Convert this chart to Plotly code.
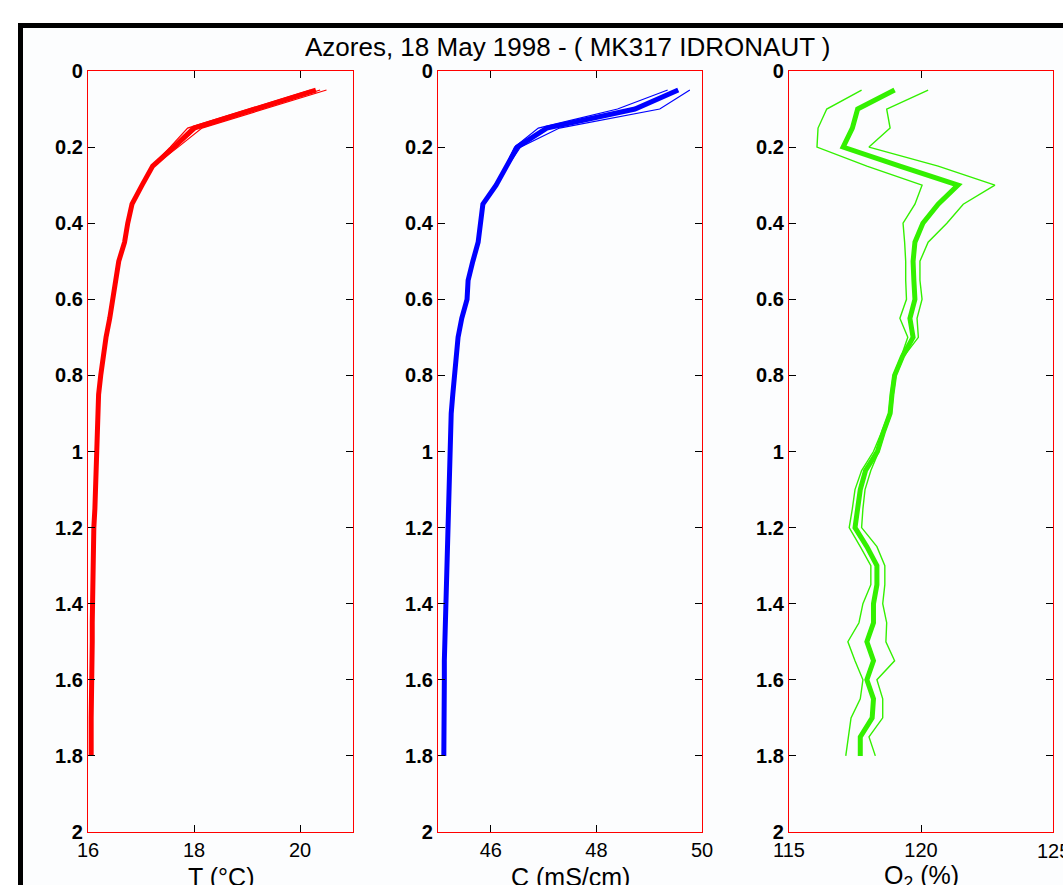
import plotly.graph_objects as go

W, H = 1063, 885

depth = [0.05, 0.10, 0.15, 0.20, 0.25, 0.30, 0.35, 0.40, 0.45, 0.50,
         0.55, 0.60, 0.65, 0.70, 0.75, 0.80, 0.85, 0.90, 0.95, 1.00,
         1.05, 1.10, 1.15, 1.20, 1.25, 1.30, 1.35, 1.40, 1.45, 1.50,
         1.55, 1.60, 1.65, 1.70, 1.75, 1.80]

# Temperature (°C)
temp_main = [20.30, 19.15, 18.00, 17.62, 17.22, 17.02, 16.83, 16.75, 16.69, 16.58,
             16.53, 16.47, 16.41, 16.34, 16.28, 16.24, 16.20, 16.19, 16.18, 16.18,
             16.17, 16.15, 16.13, 16.11, 16.10, 16.10, 16.09, 16.08, 16.08, 16.08,
             16.07, 16.07, 16.07, 16.06, 16.06, 16.06]
temp_top_a = [20.50, 19.32, 18.15, 17.70, 17.24]
temp_top_b = [20.20, 19.02, 17.88, 17.55, 17.20]
temp_top_c = [20.38, 19.22, 18.06, 17.66, 17.23]

# Conductivity (mS/cm)
cond_main = [49.55, 48.73, 47.06, 46.50, 46.30, 46.10, 45.85, 45.80, 45.76, 45.66,
             45.57, 45.55, 45.45, 45.38, 45.34, 45.30, 45.28, 45.25, 45.24, 45.23,
             45.21, 45.20, 45.18, 45.17, 45.16, 45.15, 45.14, 45.13, 45.13, 45.12,
             45.12, 45.12, 45.12, 45.11, 45.11, 45.11]
cond_top_a = [49.77, 49.20, 47.30, 46.56, 46.32]
cond_top_b = [49.35, 48.40, 46.90, 46.45, 46.28]

# Oxygen saturation (%)
oxy_main = [119.00, 117.60, 117.40, 117.05, 119.20, 121.40, 120.65, 120.07, 119.77, 119.70,
            119.73, 119.77, 119.58, 119.70, 119.30, 119.00, 118.90, 118.83, 118.57, 118.35,
            117.90, 117.70, 117.60, 117.50, 117.95, 118.33, 118.33, 118.20, 118.20, 117.95,
            118.20, 117.95, 118.20, 118.15, 117.70, 117.70]
oxy_left = [117.75, 116.43, 116.10, 116.06, 117.95, 120.04, 119.77, 119.32, 119.38, 119.42,
            119.42, 119.45, 119.20, 119.50, 119.25, 118.95, 118.85, 118.78, 118.50, 118.20,
            117.75, 117.50, 117.40, 117.28, 117.70, 118.10, 118.10, 117.80, 117.65, 117.23,
            117.50, 117.80, 117.70, 117.35, 117.25, 117.15]
oxy_right = [120.27, 118.70, 118.83, 118.03, 120.65, 122.80, 121.60, 120.98, 120.27, 119.96,
             119.96, 120.04, 119.85, 119.90, 119.35, 119.05, 118.95, 118.88, 118.62, 118.40,
             118.10, 117.88, 117.80, 117.75, 118.33, 118.63, 118.63, 118.55, 118.70, 118.67,
             119.00, 118.33, 118.55, 118.55, 118.03, 118.27]

x_ranges = [[16, 21], [45, 50], [115, 125]]
x_ticks = [[16, 18, 20], [46, 48, 50], [115, 120, 125]]
x_titles = ["T (°C)", "C (mS/cm)", "O<sub>2</sub> (%)"]
y_ticks = [0, 0.2, 0.4, 0.6, 0.8, 1.0, 1.2, 1.4, 1.6, 1.8, 2.0]
title_text = "Azores, 18 May 1998 - ( MK317 IDRONAUT )"

RED = "#ff0000"
BLUE = "#0000ff"
GREEN = "#33f000"
FONT = "Liberation Sans, Arial, Helvetica, sans-serif"

fig = go.Figure()

def px(v):
    return v / W

def py(v):
    return 1 - v / H

x_domains = [[px(88), px(353)], [px(438), px(702)], [px(789), px(1053)]]
y_domain = [py(832), py(71)]

def add_line(xs, ys, color, width, ax):
    fig.add_trace(go.Scatter(x=xs, y=ys, mode="lines",
                             line=dict(color=color, width=width),
                             xaxis="x" if ax == 1 else f"x{ax}",
                             yaxis="y" if ax == 1 else f"y{ax}",
                             showlegend=False, hoverinfo="skip"))

# Temperature panel
for top in (temp_top_a, temp_top_b, temp_top_c):
    add_line(top + temp_main[len(top):], depth, RED, 1.2, 1)
add_line(temp_main, depth, RED, 5, 1)

# Conductivity panel
for top in (cond_top_a, cond_top_b):
    add_line(top + cond_main[len(top):], depth, BLUE, 1.2, 2)
add_line(cond_main, depth, BLUE, 5, 2)

# Oxygen panel
add_line(oxy_left, depth, GREEN, 1.4, 3)
add_line(oxy_right, depth, GREEN, 1.4, 3)
add_line(oxy_main, depth, GREEN, 5, 3)

layout = dict(
    width=W, height=H,
    margin=dict(l=0, r=0, t=0, b=0, pad=0, autoexpand=False),
    paper_bgcolor="white",
    plot_bgcolor="rgba(0,0,0,0)",
    font=dict(family=FONT, color="black", size=20),
    showlegend=False,
)

for i in range(3):
    n = "" if i == 0 else str(i + 1)
    layout[f"xaxis{n}"] = dict(
        domain=x_domains[i], range=x_ranges[i], anchor=f"y{n}",
        tickmode="array", tickvals=x_ticks[i],
        ticks="inside", ticklen=7, tickwidth=1, tickcolor="black",
        showline=True, linecolor=RED, linewidth=1.3, mirror="ticks",
        showgrid=False, zeroline=False, automargin=False,
        tickfont=dict(family=FONT, size=20, color="black"),
    )
    layout[f"yaxis{n}"] = dict(
        domain=y_domain, range=[2, 0], anchor=f"x{n}",
        tickmode="array", tickvals=y_ticks,
        ticktext=[("%g" % v) for v in y_ticks],
        ticks="inside", ticklen=7, tickwidth=1, tickcolor="black",
        showline=True, linecolor=RED, linewidth=1.3, mirror="ticks",
        showgrid=False, zeroline=False, automargin=False,
        tickfont=dict(family=FONT, size=20, color="black", weight="bold"),
    )

fig.update_layout(**layout)

annotations = [dict(text=title_text, x=px(567), y=py(47), xref="paper", yref="paper",
                    xanchor="center", yanchor="middle", showarrow=False,
                    font=dict(family=FONT, size=26, color="black"))]
centers = [(88 + 353) / 2, (438 + 702) / 2, (789 + 1053) / 2]
for c, t in zip(centers, x_titles):
    annotations.append(dict(text=t, x=px(c), y=py(877), xref="paper", yref="paper",
                            xanchor="center", yanchor="middle", showarrow=False,
                            font=dict(family=FONT, size=25, color="black")))
# last oxygen tick label sits on the page edge (plotly drops it), draw it as text
last_o2 = x_ticks[2][-1]
annotations.append(dict(text=str(last_o2), x=last_o2, xref="x3", y=py(851), yref="paper",
                        xanchor="center", yanchor="middle", showarrow=False,
                        font=dict(family=FONT, size=20, color="black")))
fig.update_layout(annotations=annotations)

fig.add_shape(type="rect", xref="paper", yref="paper",
              x0=px(20.5), x1=1.2, y0=-0.2, y1=py(25.5),
              line=dict(color="black", width=5), fillcolor="#fcfdfe", layer="below")

fig.write_html("out.html")
